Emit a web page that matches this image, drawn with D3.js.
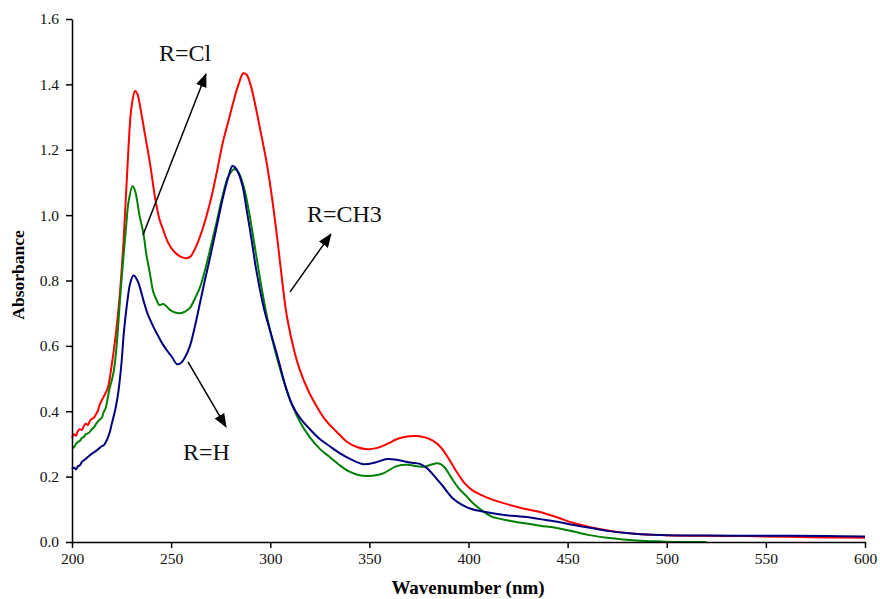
<!DOCTYPE html>
<html><head><meta charset="utf-8">
<script src="https://cdn.jsdelivr.net/npm/d3@7"></script>
<style>
body{margin:0;background:#fff;}
text{font-family:"Liberation Serif","Times New Roman",serif;}
</style></head>
<body><svg id="c" width="880" height="599"></svg>
<script>
// ---- data (wavelength in nm, absorbance) ----
const xTicks = [200,250,300,350,400,450,500,550,600];
const yTicks = [0,0.2,0.4,0.6,0.8,1.0,1.2,1.4,1.6];

// R=CH3 (red)
const ch3Nm  = [200,201,202,203,204,205,206,207,208,209,210,211,212,213,214,216,218,220,222,224,226,228,230,231.8,233,235,237,239.3,242,244,246,248,250,253,256,258,260,263,266,269.6,273,276,279,282,284,286.4,288,290,292,295,298.2,300.5,303.3,305.8,308.4,312.5,315,319,323.4,327,331,335,339,344,349,354,359,364,369,374,378,382,386,390,394,398,402,406,411,416,426,436,445,453,464,475,487,500,520,540,560,580,600];
const ch3Abs = [0.318,0.33,0.325,0.34,0.345,0.343,0.355,0.362,0.358,0.37,0.377,0.38,0.39,0.40,0.42,0.445,0.47,0.54,0.63,0.75,0.92,1.15,1.33,1.38,1.37,1.31,1.24,1.16,1.05,0.99,0.955,0.922,0.90,0.88,0.87,0.868,0.875,0.91,0.96,1.037,1.13,1.22,1.29,1.36,1.40,1.434,1.43,1.40,1.35,1.26,1.16,1.07,0.94,0.81,0.69,0.575,0.525,0.465,0.415,0.38,0.352,0.328,0.305,0.29,0.284,0.288,0.30,0.315,0.323,0.324,0.32,0.31,0.29,0.255,0.215,0.18,0.158,0.145,0.132,0.122,0.105,0.092,0.075,0.058,0.042,0.031,0.024,0.021,0.019,0.018,0.016,0.014,0.013];

// R=Cl (green)
const clNm  = [200,201,202,203,204,205,206,207,208,209,210,211,212,213,214,215,216,217,218,219,221,222.5,224.2,225.5,227.5,228.5,230.6,232,234,236,237.5,239.3,241,242.7,244,246,247.5,249.4,252,254.5,257,259.5,262,264.6,267,269.6,273,276,279,282,284,286.5,289,291.5,295,298,301,304,308,311,315,320,325,330,335,340,345,349,354,357,363.8,369,377,384,386,388,391,395,399,402,406,409,412,420,427.5,436,444.6,453,461,470,478,487,495,505,520];
const clAbs = [0.287,0.29,0.30,0.306,0.31,0.318,0.322,0.33,0.332,0.337,0.345,0.35,0.36,0.368,0.375,0.38,0.398,0.41,0.44,0.47,0.52,0.60,0.74,0.84,0.98,1.04,1.089,1.07,1.0,0.945,0.88,0.822,0.765,0.74,0.725,0.728,0.722,0.71,0.702,0.70,0.705,0.716,0.745,0.78,0.83,0.893,0.98,1.06,1.12,1.141,1.13,1.09,1.02,0.93,0.80,0.70,0.62,0.55,0.47,0.42,0.367,0.32,0.285,0.26,0.235,0.215,0.204,0.202,0.205,0.21,0.232,0.236,0.23,0.241,0.238,0.228,0.20,0.165,0.14,0.12,0.10,0.087,0.077,0.066,0.058,0.05,0.043,0.032,0.021,0.013,0.008,0.004,0.002,0.0,0.0];

// R=H (blue)
const hNm  = [200,201,202,203,204,205,206,207,208,209,210,211,212,213,214,215,216,217,218,219,220,222,223.4,225,226,227,228,229.3,231,233,236,238,241,243.5,246,248,250.3,253,255,257,259.5,262,264,267,270,273,276,279,281,283,286,288,290.6,293,297,300,304,308,311,315,320,325,330,335,340,347,353,359,365,370.5,375.5,379,383,387.3,392,397,402,410,419,428,436,445,453,462,470,478,487,500,520,540,560,580,600];
const hAbs = [0.223,0.228,0.222,0.232,0.235,0.245,0.25,0.255,0.26,0.265,0.27,0.274,0.278,0.283,0.288,0.293,0.296,0.305,0.318,0.335,0.36,0.41,0.46,0.55,0.63,0.69,0.74,0.79,0.815,0.80,0.74,0.70,0.659,0.63,0.603,0.585,0.567,0.544,0.548,0.565,0.60,0.66,0.715,0.80,0.88,0.965,1.05,1.12,1.15,1.14,1.09,1.02,0.924,0.83,0.71,0.645,0.56,0.47,0.42,0.38,0.345,0.315,0.293,0.272,0.255,0.238,0.243,0.254,0.25,0.243,0.239,0.226,0.20,0.169,0.134,0.113,0.10,0.09,0.082,0.077,0.07,0.062,0.052,0.043,0.034,0.028,0.024,0.021,0.02,0.019,0.019,0.018,0.017];

const seriesColors = ["#ff0000","#008000","#000080"];

// annotations: label position and arrow (data units)
const annLabels = ["R=Cl","R=CH3","R=H"];
const annText   = [[243.9,1.471],[318.5,0.979],[256,0.251]];
const annFrom   = [[235.8,0.939],[310,0.765],[258.5,0.551]];
const annTo     = [[267.6,1.432],[330.6,0.942],[277.7,0.352]];

// ---- drawing ----
const svg = d3.select("#c");
const x = d3.scaleLinear().domain([200,600]).range([72,865]);
const y = d3.scaleLinear().domain([0,1.6]).range([542,19]);

const series = [
  {nm: ch3Nm, abs: ch3Abs},
  {nm: clNm, abs: clAbs},
  {nm: hNm, abs: hAbs}
];

const line = d3.line().x(d=>x(d[0])).y(d=>y(d[1])).curve(d3.curveCatmullRom.alpha(0.5));

series.forEach((s,i)=>{
  const pts = s.nm.map((v,j)=>[v,s.abs[j]]);
  svg.append("path").datum(pts)
    .attr("fill","none").attr("stroke",seriesColors[i])
    .attr("stroke-width",2).attr("stroke-linejoin","round")
    .attr("d",line);
});

const xAxis = svg.append("g").attr("transform","translate(0,542)")
  .call(d3.axisBottom(x).tickValues(xTicks).tickSize(6).tickSizeOuter(0).tickPadding(5).tickFormat(d3.format("d")));
const yAxis = svg.append("g").attr("transform","translate(72,0)")
  .call(d3.axisLeft(y).tickValues(yTicks).tickSize(6).tickSizeOuter(0).tickPadding(7).tickFormat(d3.format(".1f")));
[xAxis,yAxis].forEach(g=>{
  g.selectAll("path,line").attr("stroke","#000").attr("stroke-width",1.5);
  g.selectAll("text").attr("font-family","Liberation Serif, Times New Roman, serif")
    .attr("font-size","15.5px").attr("fill","#111");
});

svg.append("text").attr("x",468).attr("y",594).attr("text-anchor","middle")
  .attr("font-weight","bold").attr("font-size","19px").text("Wavenumber (nm)");
svg.append("text").attr("transform","translate(24,275) rotate(-90)").attr("text-anchor","middle")
  .attr("font-weight","bold").attr("font-size","17.5px").text("Absorbance");

svg.append("defs").append("marker").attr("id","ah")
  .attr("viewBox","0 -6 14 12").attr("refX",13).attr("refY",0)
  .attr("markerWidth",14).attr("markerHeight",12).attr("markerUnits","userSpaceOnUse")
  .attr("orient","auto")
  .append("path").attr("d","M0,-5.5L14,0L0,5.5Z").attr("fill","#000");

annLabels.forEach((lab,i)=>{
  svg.append("line")
    .attr("x1",x(annFrom[i][0])).attr("y1",y(annFrom[i][1]))
    .attr("x2",x(annTo[i][0])).attr("y2",y(annTo[i][1]))
    .attr("stroke","#000").attr("stroke-width",1.5).attr("marker-end","url(#ah)");
  svg.append("text").attr("x",x(annText[i][0])).attr("y",y(annText[i][1]))
    .attr("font-size","24px").attr("fill","#111").text(lab);
});
</script></body></html>
